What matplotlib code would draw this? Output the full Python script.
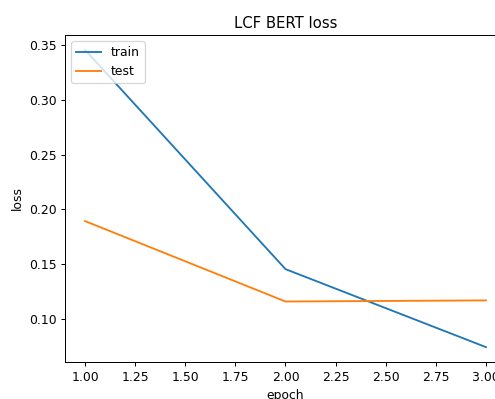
import matplotlib
matplotlib.use("Agg")
import matplotlib.pyplot as plt

epochs = [1, 2, 3]
train_loss = [0.3454, 0.1455, 0.0744]
test_loss = [0.1893, 0.1160, 0.1170]

# the reference looks like a default figure rendered at a slightly lower scale
DPI = 89
fig = plt.figure(figsize=(495 / DPI, 399 / DPI), dpi=DPI)
ax = fig.add_axes([65 / 495, 37 / 399, 441 / 495, 327 / 399])
ax.plot(epochs, train_loss, label="train")
ax.plot(epochs, test_loss, label="test")
ax.set_title("LCF BERT loss")
ax.set_xlabel("epoch")
ax.set_ylabel("loss")
ax.legend(loc="upper left")

fig.savefig("out.png", dpi=DPI)
